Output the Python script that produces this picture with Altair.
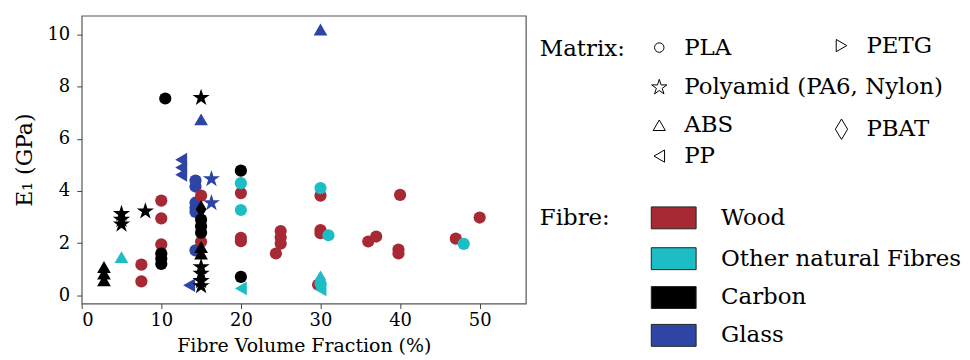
import altair as alt
import pandas as pd

# ---------------- data ----------------
fibres = ["Wood", "Other natural Fibres", "Carbon", "Glass"]
fibre_colors = ["#a72934", "#1dbdc6", "#000000", "#2f45a6"]
matrices = ["PLA", "Polyamid (PA6, Nylon)", "ABS", "PP", "PETG", "PBAT"]

# Glass
glass_abs_x = [30, 15]
glass_abs_y = [10.2, 6.75]
glass_pp_x = [12.5, 12.5, 12.5, 13.5]
glass_pp_y = [5.2, 4.9, 4.62, 0.38]
glass_pla_x = [14.3, 14.3, 14.3, 14.3, 14.3, 14.3]
glass_pla_y = [4.4, 4.17, 3.55, 3.2, 3.35, 1.72]
glass_pa_x = [16.3, 16.3]
glass_pa_y = [4.46, 3.54]

# Wood
wood_pla_x = [7.5, 7.5, 10, 10, 10, 15, 15, 20, 20, 20, 24.4, 25, 25, 25,
              30, 30, 30, 29.7, 36, 37, 40, 39.8, 39.8, 47, 50]
wood_pla_y = [1.17, 0.53, 3.63, 2.95, 1.95, 3.82, 2.05, 3.92, 2.2, 2.07, 1.6, 2.46, 2.22, 1.98,
              3.82, 2.5, 2.38, 0.4, 2.06, 2.25, 3.85, 1.75, 1.6, 2.17, 2.98]

# Other natural fibres
other_abs_x = [5]
other_abs_y = [1.46]
other_pla_x = [20, 20, 30, 31, 48, 30]
other_pla_y = [4.3, 3.27, 4.11, 2.3, 1.97, 0.45]
other_pp_x = [20, 30]
other_pp_y = [0.26, 0.22]
other_pbat_x = [30]
other_pbat_y = [0.6]

# Carbon
carbon_abs_x = [2.8, 2.8, 2.8, 15, 15]
carbon_abs_y = [1.08, 0.83, 0.57, 1.85, 1.6]
carbon_pa_x = [5, 5, 5, 8, 15, 15, 15, 15, 15]
carbon_pa_y = [3.12, 2.9, 2.72, 3.22, 7.58, 1.08, 0.83, 0.55, 0.35]
carbon_pla_x = [10.5, 10, 10, 10, 15, 15, 15, 20, 20]
carbon_pla_y = [7.55, 1.6, 1.4, 1.2, 2.9, 2.65, 2.4, 4.78, 0.7]
carbon_pbat_x = [15]
carbon_pbat_y = [3.3]

x_ticks = [0, 10, 20, 30, 40, 50]
y_ticks = [0, 2, 4, 6, 8, 10]

# ---------------- build table ----------------
series = [
    ("Glass", "ABS", glass_abs_x, glass_abs_y),
    ("Glass", "PP", glass_pp_x, glass_pp_y),
    ("Glass", "PLA", glass_pla_x, glass_pla_y),
    ("Glass", "Polyamid (PA6, Nylon)", glass_pa_x, glass_pa_y),
    ("Wood", "PLA", wood_pla_x, wood_pla_y),
    ("Other natural Fibres", "ABS", other_abs_x, other_abs_y),
    ("Other natural Fibres", "PLA", other_pla_x, other_pla_y),
    ("Other natural Fibres", "PP", other_pp_x, other_pp_y),
    ("Other natural Fibres", "PBAT", other_pbat_x, other_pbat_y),
    ("Carbon", "ABS", carbon_abs_x, carbon_abs_y),
    ("Carbon", "Polyamid (PA6, Nylon)", carbon_pa_x, carbon_pa_y),
    ("Carbon", "PLA", carbon_pla_x, carbon_pla_y),
    ("Carbon", "PBAT", carbon_pbat_x, carbon_pbat_y),
]
pt_size = {"PLA": 150, "Polyamid (PA6, Nylon)": 330, "ABS": 190, "PP": 190, "PETG": 190, "PBAT": 330}
rows = []
order = 0
for fib, mat, xs_, ys_ in series:
    for xv, yv in zip(xs_, ys_):
        rows.append({"vf": xv, "e1": yv, "fibre": fib, "matrix": mat, "order": order, "sz": pt_size[mat]})
        order += 1
df = pd.DataFrame(rows)

STAR = ("M0,-1L0.2245,-0.309L0.9511,-0.309L0.3633,0.118L0.5878,0.809L0,0.382"
        "L-0.5878,0.809L-0.3633,0.118L-0.9511,-0.309L-0.2245,-0.309Z")
THIN_DIAMOND = "M0,-1L0.6,0L0,1L-0.6,0Z"
shape_range = ["circle", STAR, "triangle-up", "triangle-left", "triangle-right", THIN_DIAMOND]

FONT = "DejaVu Serif"
PW, PH = 446, 289

main = alt.Chart(df).mark_point(filled=True, opacity=1, strokeWidth=0).encode(
    x=alt.X("vf:Q", scale=alt.Scale(domain=[0, 55.8], nice=False, zero=False),
            axis=alt.Axis(values=x_ticks, title="Fibre Volume Fraction (%)", format="d",
                          labelPadding=3, titlePadding=7)),
    y=alt.Y("e1:Q", scale=alt.Scale(domain=[-0.32, 10.73], nice=False, zero=False),
            axis=alt.Axis(values=y_ticks, title="E₁ (GPa)", format="d", titleFontSize=22)),
    color=alt.Color("fibre:N", scale=alt.Scale(domain=fibres, range=fibre_colors), legend=None),
    shape=alt.Shape("matrix:N", scale=alt.Scale(domain=matrices, range=shape_range), legend=None),
    size=alt.Size("sz:Q", scale=None, legend=None),
    order=alt.Order("order:Q"),
).properties(width=PW, height=PH)

# ---------------- custom legend ----------------
LW, LH = 420, 335
LFS = 23
sym_size = {"PLA": 90, "Polyamid (PA6, Nylon)": 260, "ABS": 150, "PP": 150, "PETG": 150, "PBAT": 420}
mat_layout = {  # column x, row y within legend panel
    "PLA": (133, 32), "Polyamid (PA6, Nylon)": (133, 72), "ABS": (133, 110),
    "PP": (133, 141), "PETG": (316, 30), "PBAT": (316, 114),
}
mleg = pd.DataFrame([
    {"lx": mat_layout[m][0], "ly": mat_layout[m][1], "label": m, "matrix": m, "sz": sym_size[m]}
    for m in matrices
])
mleg["tx"] = mleg["lx"] + 25

fleg = pd.DataFrame([
    {"label": f, "fibre": f, "ly": y}
    for f, y in zip(fibres, [203, 244, 283, 321])
])
fleg["x1"] = 125
fleg["x2"] = 170
fleg["y1"] = fleg["ly"] - 11
fleg["y2"] = fleg["ly"] + 11
fleg["tx"] = 195

heads = pd.DataFrame([{"label": "Matrix:", "lx": 13, "ly": 33}, {"label": "Fibre:", "lx": 13, "ly": 203}])

xs = alt.Scale(domain=[0, LW], range=[0, LW])
ys = alt.Scale(domain=[0, LH], range=[0, LH])

leg_sym = alt.Chart(mleg).mark_point(filled=False, color="black", strokeWidth=1, opacity=1).encode(
    x=alt.X("lx:Q", scale=xs, axis=None),
    y=alt.Y("ly:Q", scale=ys, axis=None),
    shape=alt.Shape("matrix:N", scale=alt.Scale(domain=matrices, range=shape_range), legend=None),
    size=alt.Size("sz:Q", scale=None, legend=None),
)
leg_mtxt = alt.Chart(mleg).mark_text(align="left", baseline="middle", font=FONT, fontSize=LFS, color="black").encode(
    x=alt.X("tx:Q", scale=xs, axis=None), y=alt.Y("ly:Q", scale=ys, axis=None), text="label:N")
leg_rect = alt.Chart(fleg).mark_rect(stroke="#222", strokeWidth=1).encode(
    x=alt.X("x1:Q", scale=xs, axis=None), x2="x2:Q",
    y=alt.Y("y1:Q", scale=ys, axis=None), y2="y2:Q",
    color=alt.Color("fibre:N", scale=alt.Scale(domain=fibres, range=fibre_colors), legend=None),
)
leg_ftxt = alt.Chart(fleg).mark_text(align="left", baseline="middle", font=FONT, fontSize=LFS, color="black").encode(
    x=alt.X("tx:Q", scale=xs, axis=None), y=alt.Y("ly:Q", scale=ys, axis=None), text="label:N")
leg_head = alt.Chart(heads).mark_text(align="left", baseline="middle", font=FONT, fontSize=LFS, color="black").encode(
    x=alt.X("lx:Q", scale=xs, axis=None), y=alt.Y("ly:Q", scale=ys, axis=None), text="label:N")

legend = alt.layer(leg_sym, leg_mtxt, leg_rect, leg_ftxt, leg_head).properties(
    width=LW, height=LH, view=alt.ViewBackground(stroke=None))

chart = alt.hconcat(main, legend, spacing=0).properties(
    padding={"left": 5, "top": 6, "right": 0, "bottom": 0}
).configure_view(stroke="#555", strokeWidth=1.2).configure_axis(
    grid=False, domain=False, labelFont=FONT, labelFontSize=18, labelColor="black",
    titleFont=FONT, titleFontSize=19, titleFontWeight="normal", titleColor="black",
    tickColor="#444", tickSize=5, labelPadding=4, titlePadding=8,
).configure_axisY(titlePadding=10, labelPadding=7)

chart.save("out.html", embed_options={"renderer": "svg", "actions": False})
